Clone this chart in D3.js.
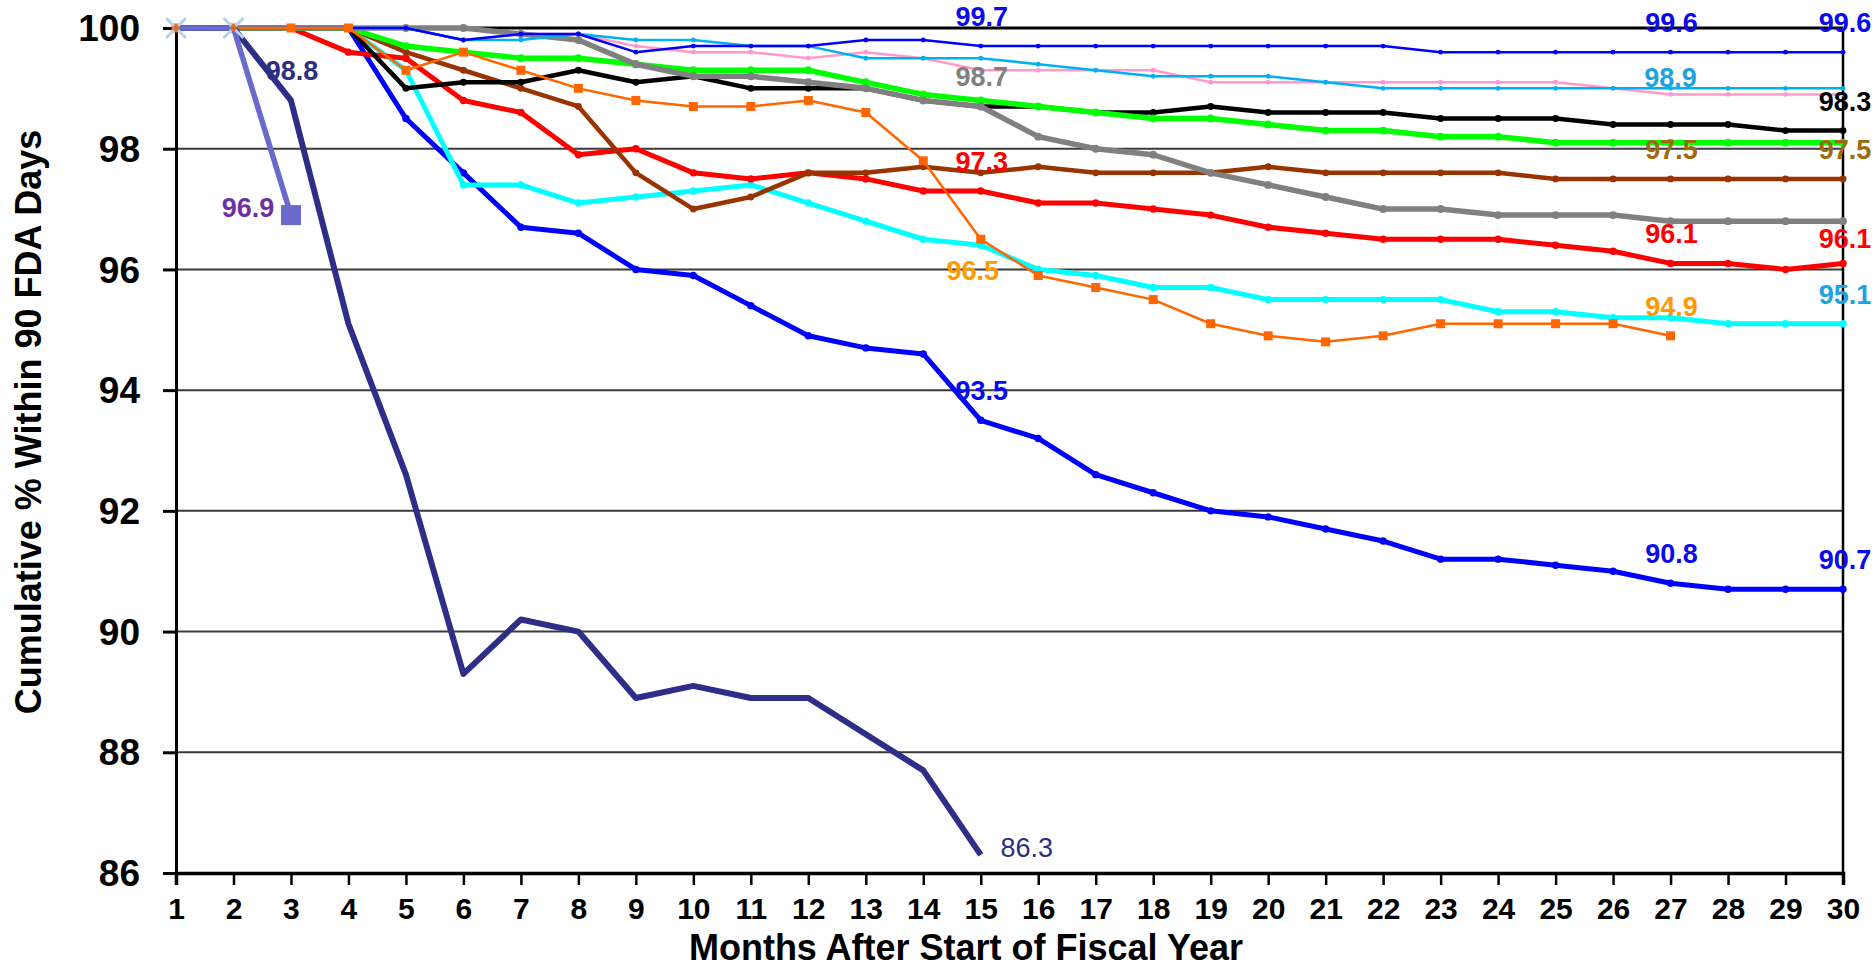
<!DOCTYPE html>
<html>
<head>
<meta charset="utf-8">
<script src="https://cdn.jsdelivr.net/npm/d3@7"></script>
<style>
  html, body { margin: 0; padding: 0; background: #fff; }
  svg { display: block; }
</style>
</head>
<body>
<svg id="chart" width="1876" height="970"></svg>
<script>
// ---------- DATA ----------
const months = d3.range(1, 31);
const yTicks = [86, 88, 90, 92, 94, 96, 98, 100];
const xTitle = "Months After Start of Fiscal Year";
const yTitle = "Cumulative % Within 90 FDA Days";

const seriesPurple = [100, 100, 96.9];
const seriesNavy = [100, 100, 98.8, 95.1, 92.6, 89.3, 90.2, 90.0, 88.9, 89.1, 88.9, 88.9, 88.3, 87.7, 86.3];
const seriesBlue = [100, 100, 100, 100, 98.5, 97.6, 96.7, 96.6, 96.0, 95.9, 95.4, 94.9, 94.7, 94.6, 93.5,
  93.2, 92.6, 92.3, 92.0, 91.9, 91.7, 91.5, 91.2, 91.2, 91.1, 91.0, 90.8, 90.7, 90.7, 90.7];
const seriesCyan = [100, 100, 100, 100, 99.3, 97.4, 97.4, 97.1, 97.2, 97.3, 97.4, 97.1, 96.8, 96.5, 96.4,
  96.0, 95.9, 95.7, 95.7, 95.5, 95.5, 95.5, 95.5, 95.3, 95.3, 95.2, 95.2, 95.1, 95.1, 95.1];
const seriesOrange = [100, 100, 100, 100, 99.3, 99.6, 99.3, 99.0, 98.8, 98.7, 98.7, 98.8, 98.6, 97.8, 96.5,
  95.9, 95.7, 95.5, 95.1, 94.9, 94.8, 94.9, 95.1, 95.1, 95.1, 95.1, 94.9];
const seriesRed = [100, 100, 100, 99.6, 99.5, 98.8, 98.6, 97.9, 98.0, 97.6, 97.5, 97.6, 97.5, 97.3, 97.3,
  97.1, 97.1, 97.0, 96.9, 96.7, 96.6, 96.5, 96.5, 96.5, 96.4, 96.3, 96.1, 96.1, 96.0, 96.1];
const seriesBrown = [100, 100, 100, 100, 99.6, 99.3, 99.0, 98.7, 97.6, 97.0, 97.2, 97.6, 97.6, 97.7, 97.6,
  97.7, 97.6, 97.6, 97.6, 97.7, 97.6, 97.6, 97.6, 97.6, 97.5, 97.5, 97.5, 97.5, 97.5, 97.5];
const seriesGray = [100, 100, 100, 100, 100, 100, 99.9, 99.8, 99.4, 99.2, 99.2, 99.1, 99.0, 98.8, 98.7,
  98.2, 98.0, 97.9, 97.6, 97.4, 97.2, 97.0, 97.0, 96.9, 96.9, 96.9, 96.8, 96.8, 96.8, 96.8];
const seriesGreen = [100, 100, 100, 100, 99.7, 99.6, 99.5, 99.5, 99.4, 99.3, 99.3, 99.3, 99.1, 98.9, 98.8,
  98.7, 98.6, 98.5, 98.5, 98.4, 98.3, 98.3, 98.2, 98.2, 98.1, 98.1, 98.1, 98.1, 98.1, 98.1];
const seriesBlack = [100, 100, 100, 100, 99.0, 99.1, 99.1, 99.3, 99.1, 99.2, 99.0, 99.0, 99.0, 98.8, 98.7,
  98.7, 98.6, 98.6, 98.7, 98.6, 98.6, 98.6, 98.5, 98.5, 98.5, 98.4, 98.4, 98.4, 98.3, 98.3];
const seriesPink = [100, 100, 100, 100, 100, 99.8, 99.9, 99.9, 99.7, 99.6, 99.6, 99.5, 99.6, 99.5, 99.3,
  99.3, 99.3, 99.3, 99.1, 99.1, 99.1, 99.1, 99.1, 99.1, 99.1, 99.0, 98.9, 98.9, 98.9, 98.9];
const seriesSky = [100, 100, 100, 100, 100, 99.8, 99.8, 99.9, 99.8, 99.8, 99.7, 99.7, 99.5, 99.5, 99.5,
  99.4, 99.3, 99.2, 99.2, 99.2, 99.1, 99.0, 99.0, 99.0, 99.0, 99.0, 99.0, 99.0, 99.0, 99.0];
const seriesBlueThin = [100, 100, 100, 100, 100, 99.8, 99.9, 99.9, 99.6, 99.7, 99.7, 99.7, 99.8, 99.8, 99.7,
  99.7, 99.7, 99.7, 99.7, 99.7, 99.7, 99.7, 99.6, 99.6, 99.6, 99.6, 99.6, 99.6, 99.6, 99.6];

// value labels: [month, value, series]
const valueLabels = [
  [3, 98.8, "navy"], [3, 96.9, "purple"], [15, 86.3, "navy"],
  [15, 99.7, "bluethin"], [15, 98.7, "gray"], [15, 97.3, "red"], [15, 96.5, "orange"], [15, 93.5, "blue"],
  [27, 99.6, "bluethin"], [30, 99.6, "bluethin"], [27, 98.9, "sky"], [30, 98.3, "black"],
  [27, 97.5, "brown"], [30, 97.5, "brown"], [27, 96.1, "red"], [30, 96.1, "red"],
  [30, 95.1, "sky"], [27, 94.9, "orange"], [27, 90.8, "blue"], [30, 90.7, "blue"]
];

// ---------- STYLES ----------
const styles = {
  blue:     { data: seriesBlue,     color: "#0000FF", w: 5,   marker: "dot" },
  cyan:     { data: seriesCyan,     color: "#00FFFF", w: 5,   marker: "dot" },
  red:      { data: seriesRed,      color: "#FF0000", w: 5,   marker: "dot" },
  brown:    { data: seriesBrown,    color: "#993300", w: 4.5, marker: "dot" },
  black:    { data: seriesBlack,    color: "#000000", w: 4.5, marker: "dot" },
  green:    { data: seriesGreen,    color: "#00FF00", w: 5.5, marker: "dot" },
  gray:     { data: seriesGray,     color: "#808080", w: 5.5, marker: "dot" },
  pink:     { data: seriesPink,     color: "#FF99CC", w: 2.5, marker: "dot" },
  sky:      { data: seriesSky,      color: "#00B0F0", w: 2.5, marker: "dot" },
  bluethin: { data: seriesBlueThin, color: "#0000FF", w: 2.5, marker: "dot" },
  orange:   { data: seriesOrange,   color: "#FF6600", w: 2.5, marker: "square" },
  navy:     { data: seriesNavy,     color: "#2E2E88", w: 6,   marker: "none" },
  purple:   { data: seriesPurple,   color: "#6A6ACC", w: 5.5, marker: "end" }
};
const labelColors = {
  navy: "#2E2E80", purple: "#7030A0", blue: "#0A0AEE", bluethin: "#0A0AEE", gray: "#808080",
  red: "#FF0000", orange: "#FF9900", sky: "#1CA3E0", black: "#000000", brown: "#9C6A10"
};
const drawOrder = ["blue", "cyan", "red", "brown", "black", "green", "gray", "pink", "sky", "bluethin", "orange", "navy", "purple"];

// ---------- CHART ----------
const svg = d3.select("#chart");
const M = { left: 176, right: 1843, top: 28, bottom: 873 };
const x = d3.scaleLinear().domain([1, 30]).range([M.left, M.right]);
const y = d3.scaleLinear().domain([86, 100]).range([M.bottom, M.top]);
const FONT = "'Liberation Sans', Arial, sans-serif";

// gridlines
svg.append("g").selectAll("line").data(yTicks.filter(v => v > 86 && v < 100)).join("line")
  .attr("x1", M.left).attr("x2", M.right)
  .attr("y1", d => y(d)).attr("y2", d => y(d))
  .attr("stroke", "#3a3a3a").attr("stroke-width", 2);
// top line
svg.append("line").attr("x1", M.left).attr("x2", M.right).attr("y1", y(100)).attr("y2", y(100))
  .attr("stroke", "#000").attr("stroke-width", 3);
// right border
svg.append("line").attr("x1", M.right).attr("x2", M.right).attr("y1", y(100)).attr("y2", y(86))
  .attr("stroke", "#000").attr("stroke-width", 2.5);

// Y axis
const yAxis = svg.append("g").attr("transform", `translate(${M.left},0)`)
  .call(d3.axisLeft(y).tickValues(yTicks).tickSize(13).tickPadding(23).tickFormat(d3.format("d")));
yAxis.select(".domain").attr("stroke", "#000").attr("stroke-width", 3);
yAxis.selectAll(".tick line").attr("stroke", "#000").attr("stroke-width", 3);
yAxis.selectAll(".tick text").attr("font-family", FONT)
  .attr("font-weight", "bold").attr("font-size", 37).attr("fill", "#000").attr("dy", "0.34em");

// X axis
const xAxis = svg.append("g").attr("transform", `translate(0,${M.bottom})`)
  .call(d3.axisBottom(x).tickValues(months).tickSize(12).tickPadding(13).tickFormat(d3.format("d")));
xAxis.select(".domain").attr("stroke", "#000").attr("stroke-width", 3.5);
xAxis.selectAll(".tick line").attr("stroke", "#000").attr("stroke-width", 2.5);
xAxis.selectAll(".tick text").attr("font-family", FONT)
  .attr("font-weight", "bold").attr("font-size", 30).attr("fill", "#000");

// titles
svg.append("text").attr("x", 966).attr("y", 960).attr("text-anchor", "middle")
  .attr("font-family", FONT).attr("font-weight", "bold")
  .attr("font-size", 36).attr("fill", "#000").text(xTitle);
svg.append("text").attr("transform", "translate(41,422) rotate(-90)").attr("text-anchor", "middle")
  .attr("font-family", FONT).attr("font-weight", "bold")
  .attr("font-size", 36).attr("fill", "#000").text(yTitle);

// lines
const line = d3.line().x((d, i) => x(i + 1)).y(d => y(d));
const gLines = svg.append("g");
drawOrder.forEach(key => {
  const s = styles[key];
  gLines.append("path").datum(s.data).attr("d", line)
    .attr("fill", "none").attr("stroke", s.color).attr("stroke-width", s.w)
    .attr("stroke-linejoin", "round").attr("stroke-linecap", "butt");
  const pts = s.data.map((v, i) => [i + 1, v]);
  if (s.marker === "dot") {
    gLines.append("g").selectAll("circle").data(pts).join("circle")
      .attr("cx", d => x(d[0])).attr("cy", d => y(d[1])).attr("r", s.w / 2 + 1.2)
      .attr("fill", s.color);
  } else if (s.marker === "square") {
    gLines.append("g").selectAll("rect").data(pts).join("rect")
      .attr("x", d => x(d[0]) - 4.5).attr("y", d => y(d[1]) - 4.5)
      .attr("width", 9).attr("height", 9).attr("fill", s.color);
  } else if (s.marker === "end") {
    const last = pts[pts.length - 1];
    gLines.append("rect").attr("x", x(last[0]) - 10).attr("y", y(last[1]) - 10)
      .attr("width", 20).attr("height", 20).attr("fill", s.color);
    const crosses = pts.slice(0, -1);
    const cg = gLines.append("g").selectAll("g").data(crosses).join("g")
      .attr("transform", d => `translate(${x(d[0])},${y(d[1])})`);
    cg.append("path").attr("d", "M-10,-10L10,10M-10,10L10,-10")
      .attr("stroke", "#B8D4E4").attr("stroke-width", 3).attr("fill", "none");
    cg.append("circle").attr("r", 3).attr("fill", "#D07030");
  }
});

// value labels
const labelOffset = (m, v, key) => {
  if (key === "purple") return { dx: -43, dy: 2 };
  if (key === "navy" && m === 15) return { dx: 46, dy: 2 };
  if (key === "orange" && m === 15) return { dx: -8, dy: 41 };
  if (key === "sky" && m === 27) return { dx: 0, dy: -7 };
  if (key === "red" && m === 30) return { dx: 2, dy: -15 };
  if (m === 30) return { dx: 2, dy: -20 };
  return { dx: 1, dy: -20 };
};
svg.append("g").selectAll("text").data(valueLabels).join("text")
  .each(function (d) {
    const o = labelOffset(d[0], d[1], d[2]);
    d3.select(this).attr("x", x(d[0]) + o.dx).attr("y", y(d[1]) + o.dy);
  })
  .attr("text-anchor", "middle")
  .attr("font-family", FONT)
  .attr("font-weight", d => (d[2] === "navy" && d[0] === 15) ? "normal" : "bold")
  .attr("font-size", 27)
  .attr("fill", d => labelColors[d[2]])
  .text(d => d3.format(".1f")(d[1]));
</script>
</body>
</html>
